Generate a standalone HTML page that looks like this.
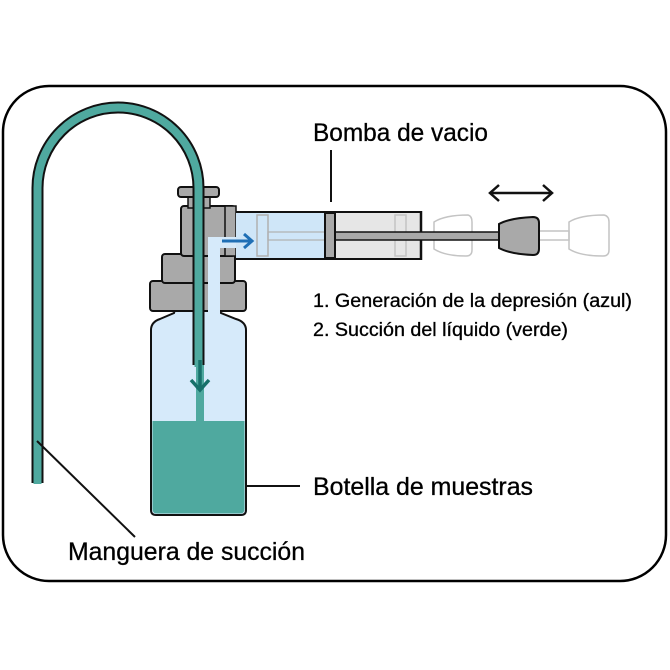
<!DOCTYPE html>
<html><head><meta charset="utf-8"><style>
html,body{margin:0;padding:0;background:#fff;}
svg{display:block;}
text{font-family:"Liberation Sans Narrow","Liberation Sans",sans-serif;fill:#000;stroke:#000;stroke-width:0.3;}
</style></head><body>
<svg width="670" height="670" viewBox="0 0 670 670" xmlns="http://www.w3.org/2000/svg">
<rect x="3" y="86" width="663" height="495" rx="46" fill="#fff" stroke="#000" stroke-width="2.5"/>

<!-- bottle -->
<path d="M151 330 Q151 322 160 319 L174 313 L176 306 L219 306 L221 313 L236 319 Q246 322 246 330 L246 510 Q246 515 241 515 L156 515 Q151 515 151 510 Z" fill="#d6eafa" stroke="#111" stroke-width="2"/>
<path d="M152.5 421 L244.5 421 L244.5 509 Q244.5 513.5 240 513.5 L157 513.5 Q152.5 513.5 152.5 509 Z" fill="#4fa99f"/>
<rect x="196" y="365" width="8" height="57" fill="#4fa99f"/>
<!-- light blue channel -->
<rect x="208" y="237" width="12" height="80" fill="#d6eafa"/>
<!-- cap pieces -->
<rect x="150" y="281" width="96" height="30" rx="3" fill="#a9a9a9" stroke="#111" stroke-width="2"/>
<rect x="162" y="254" width="73" height="29" rx="3" fill="#a9a9a9" stroke="#111" stroke-width="2"/>
<rect x="181" y="206" width="54" height="50" rx="3" fill="#a9a9a9" stroke="#111" stroke-width="2"/>
<rect x="225" y="206" width="11" height="50" fill="#a9a9a9" stroke="#111" stroke-width="1.5"/>
<rect x="188" y="196" width="22" height="12" fill="#a9a9a9" stroke="#111" stroke-width="1.5"/>
<rect x="178" y="187" width="41" height="10" rx="3" fill="#a9a9a9" stroke="#111" stroke-width="2"/>
<!-- channel over cap -->
<path d="M208 317 L208 237 L236 237 L236 248 L220 248 L220 317 Z" fill="#d6eafa"/>

<!-- syringe barrel -->
<rect x="236" y="212" width="90" height="47" fill="#cfe6f8"/>
<rect x="326" y="212" width="95" height="47" fill="#e6e6e6"/>
<line x1="236" y1="212" x2="421" y2="212" stroke="#111" stroke-width="2"/>
<line x1="236" y1="259" x2="421" y2="259" stroke="#111" stroke-width="2"/>
<line x1="421" y1="211" x2="421" y2="260" stroke="#111" stroke-width="2.5"/>
<rect x="257" y="215" width="11" height="41" fill="none" stroke="#b0b0b0" stroke-width="1.5"/>
<rect x="268" y="232" width="57" height="8" fill="none" stroke="#b0b0b0" stroke-width="1.2"/>
<rect x="395" y="215" width="11" height="41" fill="none" stroke="#c4c4c4" stroke-width="1.5"/>
<!-- ghost handles -->
<path d="M434 222 Q445 215 468 215 Q472 216 472 222 L472 250 Q472 256 466 256 Q445 256 434 249 Z" fill="none" stroke="#c4c4c4" stroke-width="1.5"/>
<path d="M569 222 Q580 215 604 215 Q609 216 609 222 L609 250 Q609 256 603 256 Q580 256 569 249 Z" fill="none" stroke="#c4c4c4" stroke-width="1.5"/>
<rect x="539" y="231" width="30" height="9" fill="none" stroke="#c4c4c4" stroke-width="1.5"/>
<!-- rod -->
<rect x="335" y="232" width="166" height="8" fill="#a9a9a9" stroke="#111" stroke-width="1.5"/>
<rect x="325" y="213" width="10" height="45" fill="#a9a9a9" stroke="#111" stroke-width="2"/>
<!-- handle -->
<path d="M499 224 Q510 218 533 217 Q539 217 539 223 L539 249 Q539 255 533 255 Q510 254 499 248 Z" fill="#a9a9a9" stroke="#111" stroke-width="2"/>
<!-- double arrow -->
<line x1="491" y1="193" x2="551" y2="193" stroke="#111" stroke-width="2.5"/>
<polyline points="499,185 490,193 499,201" fill="none" stroke="#111" stroke-width="2.5"/>
<polyline points="543,185 552,193 543,201" fill="none" stroke="#111" stroke-width="2.5"/>

<!-- blue arrow -->
<line x1="222" y1="241" x2="250" y2="241" stroke="#1f6fb5" stroke-width="3"/>
<polyline points="244,234 252,241 244,248" fill="none" stroke="#1f6fb5" stroke-width="3"/>

<!-- hose -->
<path d="M37.5 483 L37.5 188 A80.5 80.5 0 0 1 198.5 188 L198.5 365" fill="none" stroke="#111" stroke-width="12"/>
<path d="M37.5 484 L37.5 188 A80.5 80.5 0 0 1 198.5 188 L198.5 367" fill="none" stroke="#4fa99f" stroke-width="8"/>
<!-- green arrow -->
<line x1="200" y1="360" x2="200" y2="390" stroke="#17706a" stroke-width="3.5"/>
<polyline points="191,380 200,390 209,380" fill="none" stroke="#17706a" stroke-width="3.5"/>

<!-- leaders -->
<line x1="331" y1="150" x2="331" y2="202" stroke="#111" stroke-width="2"/>
<line x1="246" y1="486" x2="300" y2="486" stroke="#111" stroke-width="2"/>
<line x1="37" y1="441" x2="135" y2="537" stroke="#111" stroke-width="2"/>

<text x="313" y="141" font-size="25" textLength="175" lengthAdjust="spacingAndGlyphs">Bomba de vacio</text>
<text x="313" y="307" font-size="19" textLength="319" lengthAdjust="spacingAndGlyphs">1. Generación de la depresión (azul)</text>
<text x="313" y="336" font-size="19" textLength="255" lengthAdjust="spacingAndGlyphs">2. Succión del líquido (verde)</text>
<text x="313" y="495" font-size="25" textLength="220" lengthAdjust="spacingAndGlyphs">Botella de muestras</text>
<text x="68" y="560" font-size="25" textLength="237" lengthAdjust="spacingAndGlyphs">Manguera de succión</text>
</svg>
</body></html>
